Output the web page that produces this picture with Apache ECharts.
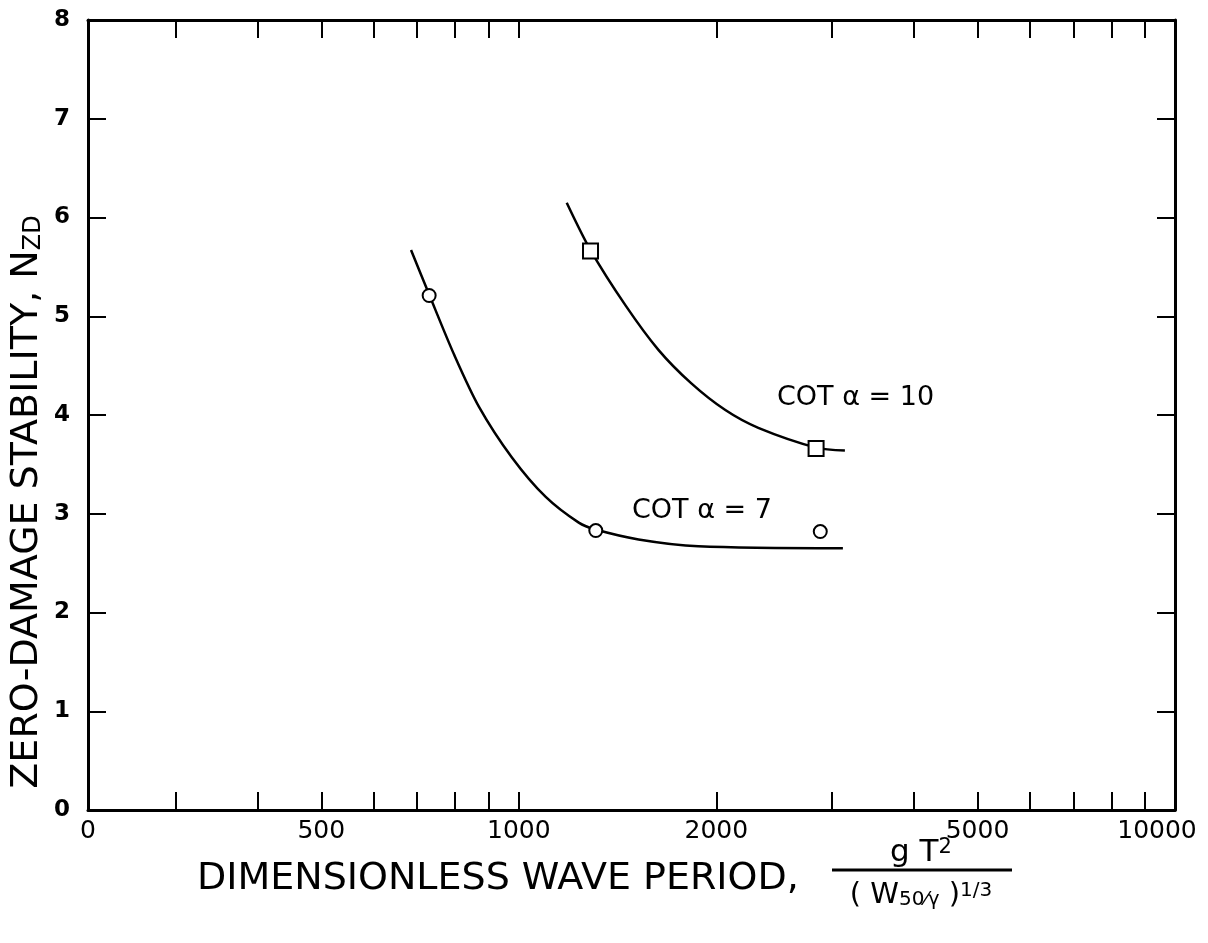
<!DOCTYPE html>
<html>
<head>
<meta charset="utf-8">
<script src="https://cdn.jsdelivr.net/npm/echarts@6/dist/echarts.min.js"></script>
<style>
  html, body { margin: 0; padding: 0; background: #fff; }
  #chart { width: 1208px; height: 943px; }
</style>
</head>
<body>
<div id="chart"></div>
<script>
// x = gT^2/(W50/γ)^1/3 (log scale), y = zero-damage stability N_ZD
const xRange = [220.5, 10000]
const yRange = [0, 8]
const xTickValues = [300, 400, 500, 600, 700, 800, 900, 1000, 2000, 3000, 4000, 5000, 6000, 7000, 8000, 9000]
const xLabelValues = [220.5, 500, 1000, 2000, 5000, 10000]
const xLabelTexts = ['0', '500', '1000', '2000', '5000', '10000']

// cot α = 7 : faired curve + test points
const cot7CurveX = [685, 730, 797, 870, 976, 1099, 1234, 1309, 1522, 1877, 3118]
const cot7CurveY = [5.67, 5.22, 4.61, 4.08, 3.57, 3.17, 2.91, 2.84, 2.74, 2.67, 2.65]
const cot7PointX = [730, 1310, 2880]
const cot7PointY = [5.21, 2.83, 2.82]

// cot α = 10
const cot10CurveX = [1183, 1286, 1454, 1632, 1832, 2064, 2317, 2838, 3140]
const cot10CurveY = [6.15, 5.67, 5.11, 4.66, 4.32, 4.05, 3.87, 3.67, 3.64]
const cot10PointX = [1286, 2838]
const cot10PointY = [5.66, 3.66]

const FONT = 'DejaVu Sans'
const lg = v => Math.log10(v)
const pairs = (xs, ys) => xs.map((x, i) => [lg(x), ys[i]])

const axisLine = { lineStyle: { color: '#000', width: 3 } }
const tick = { inside: true, length: 18, lineStyle: { color: '#000', width: 2 } }

const xBase = {
  type: 'value',
  min: lg(xRange[0]),
  max: lg(xRange[1]),
  axisLine: { ...axisLine, onZero: false },
  axisTick: { ...tick, customValues: xTickValues.map(lg) },
  splitLine: { show: false }
}
const yBase = {
  type: 'value',
  min: yRange[0],
  max: yRange[1],
  interval: 1,
  axisLine: { ...axisLine, onZero: false },
  axisTick: tick,
  splitLine: { show: false }
}

const lineSeries = (name, xs, ys) => ({
  name,
  type: 'line',
  data: pairs(xs, ys),
  smooth: 0.3,
  showSymbol: false,
  lineStyle: { color: '#000', width: 2.5 },
  z: 2
})
const pointSeries = (name, xs, ys, symbol, size) => ({
  name,
  type: 'scatter',
  data: pairs(xs, ys),
  symbol,
  symbolSize: size,
  itemStyle: { color: '#fff', borderColor: '#000', borderWidth: 2, opacity: 1 },
  z: 3
})

const chart = echarts.init(document.getElementById('chart'))
chart.setOption({
  animation: false,
  backgroundColor: '#fff',
  grid: { left: 88, right: 33, top: 20, bottom: 133, outerBoundsMode: 'none', containLabel: false },
  xAxis: [
    {
      ...xBase,
      position: 'bottom',
      axisLabel: {
        customValues: xLabelValues.map(lg),
        formatter: v => {
          const i = xLabelValues.findIndex(x => Math.abs(lg(x) - v) < 1e-6)
          if (i < 0) return ''
          // last label sits a little left of its tick, as in the original
          return i === xLabelTexts.length - 1 ? `{r|${xLabelTexts[i]}}` : xLabelTexts[i]
        },
        color: '#000',
        fontFamily: FONT,
        fontSize: 25,
        margin: 9,
        rich: { r: { fontFamily: FONT, fontSize: 25, color: '#000', padding: [0, 36, 0, 0] } }
      }
    },
    { ...xBase, position: 'top', axisLabel: { show: false } }
  ],
  yAxis: [
    {
      ...yBase,
      position: 'left',
      axisLabel: { color: '#000', fontFamily: FONT, fontSize: 23, fontWeight: 'bold', margin: 18 }
    },
    { ...yBase, position: 'right', axisLabel: { show: false } }
  ],
  series: [
    lineSeries('COT α = 7', cot7CurveX, cot7CurveY),
    lineSeries('COT α = 10', cot10CurveX, cot10CurveY),
    pointSeries('COT α = 7 data', cot7PointX, cot7PointY, 'circle', 13),
    pointSeries('COT α = 10 data', cot10PointX, cot10PointY, 'rect', 15)
  ],
  graphic: [
    // curve annotations
    { type: 'text', left: 777, top: 384, style: { text: 'COT α = 10', font: `27px "${FONT}"`, fill: '#000' } },
    { type: 'text', left: 632, top: 497, style: { text: 'COT α = 7', font: `27px "${FONT}"`, fill: '#000' } },
    // y axis title
    {
      type: 'text',
      x: 27,
      y: 502,
      rotation: Math.PI / 2,
      style: {
        text: '{a|ZERO-DAMAGE STABILITY, N}{s|ZD}',
        align: 'center',
        verticalAlign: 'middle',
        fill: '#000',
        rich: {
          a: { fontFamily: FONT, fontSize: 38, fill: '#000' },
          s: { fontFamily: FONT, fontSize: 24, fill: '#000', verticalAlign: 'bottom' }
        }
      }
    },
    // x axis title
    {
      type: 'text',
      left: 197,
      top: 860,
      style: { text: 'DIMENSIONLESS WAVE PERIOD,', font: `38px "${FONT}"`, fill: '#000' }
    },
    {
      type: 'text',
      x: 921,
      y: 853,
      style: {
        text: '{n|g T}{p|2}',
        align: 'center',
        verticalAlign: 'middle',
        rich: {
          n: { fontFamily: FONT, fontSize: 31, fill: '#000' },
          p: { fontFamily: FONT, fontSize: 21, fill: '#000', verticalAlign: 'top' }
        }
      }
    },
    { type: 'line', shape: { x1: 832, y1: 870, x2: 1012, y2: 870 }, style: { stroke: '#000', lineWidth: 3 } },
    {
      type: 'text',
      x: 921,
      y: 895,
      style: {
        text: '{n|( W}{b|50⁄γ}{n| )}{p|1/3}',
        align: 'center',
        verticalAlign: 'middle',
        rich: {
          n: { fontFamily: FONT, fontSize: 29, fill: '#000' },
          b: { fontFamily: FONT, fontSize: 20, fill: '#000', verticalAlign: 'bottom' },
          p: { fontFamily: FONT, fontSize: 20, fill: '#000', verticalAlign: 'top' }
        }
      }
    }
  ]
})
</script>
</body>
</html>
